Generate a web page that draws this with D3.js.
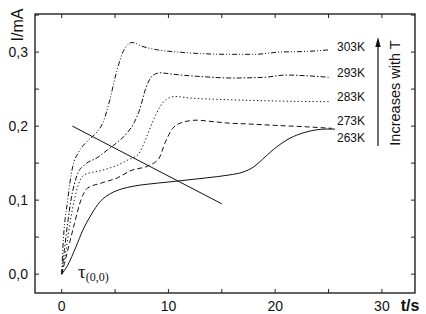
<!DOCTYPE html>
<html>
<head>
<meta charset="utf-8">
<script src="https://cdn.jsdelivr.net/npm/d3@7"></script>
<style>
  body { margin: 0; background: #fff; }
  text { font-family: "Liberation Sans", Arial, sans-serif; fill: #111; }
</style>
</head>
<body>
<svg id="chart" width="426" height="314"></svg>
<script>
// series: [t (s), I (mA)]
const labels = ["303K", "293K", "283K", "273K", "263K"];

const s303 = [[0, 0], [0.1, 0.032], [0.56, 0.1], [1.03, 0.145], [1.6, 0.165], [2.5, 0.181],
  [3.3, 0.192], [3.9, 0.206], [4.5, 0.235], [5.1, 0.271], [5.8, 0.302], [6.6, 0.313],
  [7.5, 0.308], [9, 0.303], [11, 0.300], [13, 0.298], [16, 0.297], [18, 0.297],
  [20.4, 0.300], [23, 0.301], [25, 0.303]];

const s293 = [[0, 0], [0.25, 0.032], [0.87, 0.1], [1.5, 0.136], [2.1, 0.147], [3.4, 0.158],
  [4.3, 0.168], [5.2, 0.178], [6.2, 0.192], [6.8, 0.205], [7.3, 0.222], [7.9, 0.252],
  [8.5, 0.268], [9.2, 0.272], [10.5, 0.270], [13, 0.267], [16, 0.265], [19, 0.266],
  [21, 0.269], [23, 0.268], [25, 0.266]];

const s283 = [[0, 0], [0.4, 0.032], [0.87, 0.077], [1.5, 0.118], [2.1, 0.134], [3.7, 0.140],
  [5.2, 0.147], [6.3, 0.155], [7.2, 0.162], [7.8, 0.18], [8.5, 0.205], [9.2, 0.226],
  [9.8, 0.236], [10.6, 0.240], [12, 0.238], [15, 0.236], [20, 0.234], [25, 0.233]];

const s273 = [[0, 0], [0.25, 0.014], [0.72, 0.041], [1.19, 0.068], [1.8, 0.1], [2.4, 0.116],
  [3.7, 0.123], [5.2, 0.130], [6.5, 0.140], [8.2, 0.147], [9.1, 0.156], [9.7, 0.178],
  [10.4, 0.197], [11.1, 0.204], [12.6, 0.208], [14.2, 0.206], [15.7, 0.204],
  [17.3, 0.203], [20, 0.201], [23, 0.199], [25.3, 0.197]];

const s263 = [[0, 0], [0.56, 0.012], [1.34, 0.037], [1.97, 0.059], [2.75, 0.08], [3.6, 0.098],
  [4.6, 0.109], [5.6, 0.115], [6.8, 0.119], [9, 0.123], [11, 0.126], [13.5, 0.130],
  [15.7, 0.134], [17, 0.138], [18, 0.145], [18.8, 0.155], [19.8, 0.168], [21.3, 0.183],
  [22.9, 0.192], [24.8, 0.196], [25.6, 0.196]];

const series = [s303, s293, s283, s273, s263];

// straight guide line across the curves
const guide = [[1.0, 0.2], [15.0, 0.095]];

const xTicks = [0, 10, 20, 30];
const yTicks = [0, 0.1, 0.2, 0.3];
const xTickLabels = ["0", "10", "20", "30"];
const yTickLabels = ["0,0", "0,1", "0,2", "0,3"];

const svg = d3.select("#chart");
const mLeft = 35, mRight = 415, mTop = 14, mBottom = 293;

const x = d3.scaleLinear().domain([-2.5, 33.1]).range([mLeft, mRight]);
const y = d3.scaleLinear().domain([-0.0255, 0.3515]).range([mBottom, mTop]);

// minor ticks every 5 s / 0.05 mA, inward on all four sides
const tickLen = 4;
const xMinor = d3.range(0, 33, 5);
const yMinor = d3.range(0, 0.351, 0.05);

const ax = svg.append("g").attr("stroke", "#222").attr("stroke-width", 1);
xMinor.forEach(v => {
  ax.append("line").attr("x1", x(v)).attr("x2", x(v)).attr("y1", mBottom).attr("y2", mBottom - tickLen);
  ax.append("line").attr("x1", x(v)).attr("x2", x(v)).attr("y1", mTop).attr("y2", mTop + tickLen);
});
yMinor.forEach(v => {
  ax.append("line").attr("x1", mLeft).attr("x2", mLeft + tickLen).attr("y1", y(v)).attr("y2", y(v));
  ax.append("line").attr("x1", mRight).attr("x2", mRight - tickLen).attr("y1", y(v)).attr("y2", y(v));
});

svg.append("rect")
  .attr("x", mLeft).attr("y", mTop)
  .attr("width", mRight - mLeft).attr("height", mBottom - mTop)
  .attr("fill", "none").attr("stroke", "#222").attr("stroke-width", 1.4);

svg.append("g").selectAll("text").data(xTicks).join("text")
  .attr("x", d => x(d)).attr("y", 311)
  .attr("text-anchor", "middle").style("font-size", "14px")
  .text((d, i) => xTickLabels[i]);

svg.append("g").selectAll("text").data(yTicks).join("text")
  .attr("x", 28).attr("y", d => y(d)).attr("dy", "0.36em")
  .attr("text-anchor", "end").style("font-size", "14px")
  .text((d, i) => yTickLabels[i]);

svg.append("text")
  .attr("transform", "translate(23,25) rotate(-90)")
  .attr("text-anchor", "middle").style("font-size", "16px")
  .text("I/mA");

svg.append("text")
  .attr("x", 410).attr("y", 311)
  .attr("text-anchor", "middle").style("font-size", "16px").style("font-weight", "bold")
  .text("t/s");

// curves
const dashes = ["5,2,1,2,1,2", "5,2,1.5,2", "1.3,2.4", "5,3", null];
const line = d3.line().x(d => x(d[0])).y(d => y(d[1])).curve(d3.curveMonotoneX);

svg.append("g").selectAll("path").data(series).join("path")
  .attr("d", line)
  .attr("fill", "none").attr("stroke", "#111").attr("stroke-width", 1)
  .attr("stroke-dasharray", (d, i) => dashes[i]);

svg.append("path")
  .attr("d", d3.line().x(d => x(d[0])).y(d => y(d[1]))(guide))
  .attr("fill", "none").attr("stroke", "#111").attr("stroke-width", 1);

// temperature labels beside the curve ends
const labelDy = [-3, -5, -5, -8, 9];
svg.append("g").selectAll("text").data(series).join("text")
  .attr("x", 337)
  .attr("y", (d, i) => y(d[d.length - 1][1]) + labelDy[i])
  .attr("dy", "0.36em").style("font-size", "12px")
  .text((d, i) => labels[i]);

// arrow and note
svg.append("line")
  .attr("x1", 378).attr("x2", 378).attr("y1", 146).attr("y2", 44)
  .attr("stroke", "#111").attr("stroke-width", 1.2);
svg.append("path")
  .attr("d", "M378,37 L375.3,47 L380.7,47 Z")
  .attr("fill", "#111");

svg.append("text")
  .attr("transform", "translate(400,93) rotate(-90)")
  .attr("text-anchor", "middle").style("font-size", "14.5px")
  .text("Increases with T");

// tau label at the origin
const tau = svg.append("text")
  .attr("x", 78).attr("y", 278)
  .style("font-family", "'Liberation Serif', 'DejaVu Serif', serif");
tau.append("tspan").style("font-size", "19px").text("τ");
tau.append("tspan").style("font-size", "12px").attr("dy", 3).text("(0,0)");
</script>
</body>
</html>
